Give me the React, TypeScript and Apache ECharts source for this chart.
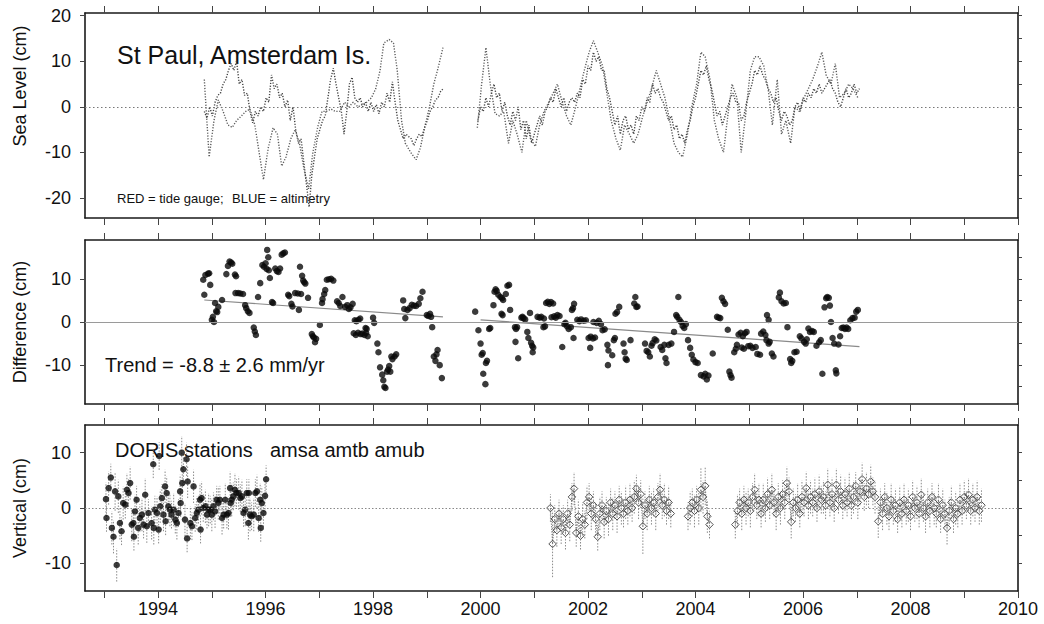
import React, { useEffect, useRef } from 'react';
import * as echarts from 'echarts';

// ---------- axes ----------
const X_MIN = 1992.64;
const X_MAX = 2010;
const yearTicks = [1993, 1994, 1995, 1996, 1997, 1998, 1999, 2000, 2001, 2002, 2003, 2004, 2005, 2006, 2007, 2008, 2009, 2010];
const yearLabels = [1994, 1996, 1998, 2000, 2002, 2004, 2006, 2008, 2010];

const seaLevelRange = [-24.4, 20.6];
const seaLevelLabels = [-20, -10, 0, 10, 20];
const seaLevelRightTicks = [-20, -15, -10, -5, 0, 5, 10, 15, 20];
const diffRange = [-19, 19];
const diffLabels = [-10, 0, 10];
const diffRightTicks = [-15, -10, -5, 0, 5, 10, 15];
const vertRange = [-15, 15];
const vertLabels = [-10, 0, 10];
const vertRightTicks = [-10, -5, 0, 5, 10];

// ---------- panel 1 : sea level (cm) ----------
const tideGauge1 = [
  [1994.86, 6], [1994.95, -11], [1995.04, -3], [1995.12, 1.5], [1995.21, -1], [1995.3, -4], [1995.38, -4.5],
  [1995.46, -3], [1995.55, -2], [1995.63, -1], [1995.71, -0.5], [1995.8, -4], [1995.88, -10], [1995.96, -16],
  [1996.05, -9], [1996.14, -4.6], [1996.22, -6], [1996.3, -13], [1996.38, -11], [1996.47, -7], [1996.55, -5],
  [1996.63, -8], [1996.72, -14], [1996.8, -18], [1996.88, -10], [1996.97, -4.4], [1997.05, -1], [1997.13, -1],
  [1997.22, -0.5], [1997.3, -1], [1997.38, -1], [1997.47, 1], [1997.55, 0], [1997.63, 1], [1997.72, 0],
  [1997.8, 0.5], [1997.88, 1], [1997.97, 2], [1998.05, 4], [1998.13, 8], [1998.2, 14], [1998.3, 14.8],
  [1998.38, 14], [1998.45, 8], [1998.53, -3], [1998.6, -8], [1998.7, -10], [1998.8, -11.6], [1998.88, -9],
  [1998.97, -4], [1999.05, 0], [1999.13, 5], [1999.22, 9], [1999.3, 13],
];
const tideGauge2 = [
  [1999.94, -4.6], [2000.02, 5], [2000.1, 13], [2000.18, 5], [2000.27, -1.5], [2000.35, -2], [2000.43, -1],
  [2000.52, -8], [2000.6, -3], [2000.68, -6], [2000.77, -10], [2000.85, -3], [2000.93, -7], [2001.02, -8.7],
  [2001.1, -4], [2001.18, -1], [2001.27, 1], [2001.35, 3], [2001.43, 5], [2001.52, 1], [2001.6, -2],
  [2001.68, -4], [2001.77, 0], [2001.85, 4], [2001.93, 8], [2002.02, 12], [2002.1, 14.5], [2002.18, 12],
  [2002.27, 9], [2002.35, 3], [2002.43, -3], [2002.52, -7], [2002.6, -9.5], [2002.68, -4], [2002.77, -6],
  [2002.85, -8], [2002.93, -6], [2003.02, -2], [2003.1, 1], [2003.18, 4], [2003.27, 8], [2003.35, 5],
  [2003.43, 2], [2003.52, -3], [2003.6, -8], [2003.68, -10], [2003.76, -11], [2003.85, -6], [2003.93, 0],
  [2004.02, 5], [2004.1, 12], [2004.18, 11], [2004.27, 6], [2004.35, -3], [2004.43, -7], [2004.52, -10],
  [2004.6, -2], [2004.68, 5], [2004.77, 2], [2004.85, -10], [2004.93, -2], [2005.02, 8], [2005.1, 11],
  [2005.18, 11], [2005.27, 9], [2005.35, 4], [2005.43, -4], [2005.52, 6], [2005.6, -6], [2005.68, -3],
  [2005.77, -8], [2005.85, 0], [2005.93, -1], [2006.02, 2], [2006.1, 4], [2006.18, 6], [2006.27, 9],
  [2006.35, 12], [2006.43, 7], [2006.52, 5], [2006.6, 9.5], [2006.68, 2], [2006.77, 3], [2006.85, 5],
  [2006.93, 4], [2007.02, 2],
];
const altimetryStep = 0.05;
const altimetry1Start = 1994.86;
const altimetry1Values = [
  -1, -2.5, 0, -2, 1, 2.5, 3, 5, 6, 8, 9.5, 8, 10, 5, 6, 2.5, 3, -1, -3.5, -1,
  -2, 0, -1, 2, 1, 7, 4, 5, 2, 3, 0, 1.5, -3, 0, -5, -8, -7, -12, -17, -22,
  -15, -11, -7, -5, -3, -2, 2, 6, 8.5, 5, 2, -1, -6, -1, 5, 6.5, 2, 1, 2, 0,
  1, -1, 1, -1, 0.5, -1.5, 1, 0, 3, 1, 5.5, 1, -3, -5, -7, -6, -6.5, -7, -8.5, -7,
  -6, -6.5, -4.5, -3, -1, 0, 1.5, 2, 3.5, 4,
];
const altimetry2Start = 1999.95;
const altimetry2Values = [
  -3, 0, -1, 2, 0, 3, 5, 2, 3, -1, 1, -2, -4, -1, -3, 0, -5, -3, -7, -4,
  -8, -6, -4, -2, -4, -1, 0, 2, 1, 4, 2, 0, 2, -1, 1, 2, 1, 3, 2, 6,
  5, 9, 8, 12, 10, 11, 8, 8, 4, 2, -1, -4, -2, -6, -3, -2, -5, -4, -6, -2,
  -3, 0, -1, 2, 1, 5, 3, 4, 2, 1, -1, -3, -2, -5, -4, -7, -6, -8, -5, -3,
  0, 2, 5, 8, 7, 9, 6, 4, 1, -2, -1, -4, -2, 0, 2, 3, 1, 1, -3, -2,
  1, 3, 5, 8, 7, 9, 7, 6, 4, 3, 1, 2, -1, -3, -1, -2, -4, -3, 0, 1,
  -1, 2, 1, 3, 2, 4, 3, 5, 3, 4, 5, 6, 4, 3, 1, 0, 2, 4, 2, 3,
  5, 3, 4,
];

// ---------- panel 2 : difference (cm) ----------
const difference1 = [
  [1994.84, 9.8], [1994.86, 6.3], [1994.88, 10.9], [1994.93, 11.2], [1994.95, 11.3], [1994.97, 8.6], [1995.0, 0.5],
  [1995.02, 1.2], [1995.04, 0], [1995.06, 4.4], [1995.08, 2.5], [1995.1, 2.3], [1995.12, 3.5], [1995.19, 5.1],
  [1995.27, 11.1], [1995.3, 13], [1995.33, 14], [1995.36, 13.8], [1995.38, 13.5], [1995.43, 11], [1995.45, 10.6],
  [1995.44, 6.7], [1995.49, 6.7], [1995.53, 6.6], [1995.58, 6.5], [1995.62, 3.9], [1995.64, 3.2], [1995.67, 2.5],
  [1995.7, 2.1], [1995.78, -1.3], [1995.8, -2.2], [1995.82, -3], [1995.86, 5.8], [1995.9, 9], [1995.94, 13.2],
  [1995.97, 12.8], [1996.0, 13.6], [1996.02, 12.3], [1996.03, 16.7], [1996.05, 15], [1996.06, 12], [1996.08, 10.2],
  [1996.12, 4.6], [1996.14, 4.4], [1996.18, 12.4], [1996.21, 11.8], [1996.24, 11.6], [1996.27, 12.4], [1996.3, 15.6],
  [1996.33, 15.9], [1996.36, 16.1], [1996.42, 6.3], [1996.44, 6], [1996.48, 4.2], [1996.5, 3.6], [1996.55, 6.7],
  [1996.6, 6.6], [1996.62, 2.8], [1996.64, 12.8], [1996.66, 6.5], [1996.68, 10.7], [1996.7, 9.6], [1996.72, 9.2],
  [1996.74, 8.9], [1996.79, 5.6], [1996.86, -2.8], [1996.88, -3.3], [1996.9, -3.6], [1996.92, -4.7], [1996.94, -3.9],
  [1997.01, -0.7], [1997.05, 4.4], [1997.06, 5.3], [1997.09, 6.5], [1997.11, 7.4], [1997.14, 9.8], [1997.18, 9.9],
  [1997.22, 10], [1997.26, 9.6], [1997.33, 4.8], [1997.36, 4.4], [1997.39, 3.7], [1997.43, 5.8], [1997.48, 3.5],
  [1997.52, 3.9], [1997.55, 3], [1997.58, 3.4], [1997.62, 4.2], [1997.64, -2.6], [1997.66, 0.4], [1997.68, -3],
  [1997.69, 0.2], [1997.72, -2.5], [1997.73, 0.5], [1997.76, 0.8], [1997.77, -2.8], [1997.8, -2.7], [1997.84, -3],
  [1997.86, -1.4], [1997.87, -2.5], [1997.88, -1.6], [1997.9, -3.3], [1998.0, 1], [1998.02, -0.2], [1998.08, -5],
  [1998.1, -7], [1998.13, -10.5], [1998.17, -12.2], [1998.19, -13.5], [1998.21, -15], [1998.23, -15.3], [1998.26, -11.5],
  [1998.28, -11], [1998.3, -10.2], [1998.32, -11.5], [1998.34, -8], [1998.36, -8.6], [1998.4, -8], [1998.43, -7.5],
  [1998.56, 5], [1998.58, 3], [1998.6, 0.9], [1998.64, 2.8], [1998.68, 3.2], [1998.72, 4], [1998.76, 3.8],
  [1998.8, 3.7], [1998.85, 4.2], [1998.88, 5.5], [1998.92, 7], [1999.0, 1.6], [1999.03, 1.4], [1999.06, 1.9],
  [1999.08, 1.2], [1999.1, -1.2], [1999.13, -8], [1999.16, -9], [1999.18, -7.5], [1999.2, -6.5], [1999.24, -10],
  [1999.28, -13],
];
const difference2 = [
  [1999.9, 2.4], [1999.96, -1.9], [2000.0, -5], [2000.02, -7.6], [2000.04, -7.2], [2000.05, -12], [2000.09, -14.4],
  [2000.1, -9.5], [2000.12, -9], [2000.16, -1.6], [2000.18, -1.4], [2000.24, 3.9], [2000.26, 7], [2000.28, 7.6],
  [2000.3, 7.2], [2000.33, 6.3], [2000.37, 5.8], [2000.4, 5.5], [2000.42, 5.1], [2000.39, 1.9], [2000.41, 1.6],
  [2000.47, 6.5], [2000.5, 8.4], [2000.53, 8.6], [2000.55, 2.8], [2000.64, -1.2], [2000.66, -1.6], [2000.68, -1.2],
  [2000.65, -4.6], [2000.7, -8.4], [2000.76, 1], [2000.78, 1.2], [2000.8, 0.9], [2000.83, 0.6], [2000.87, -2.3],
  [2000.89, -3.7], [2000.92, 2.1], [2000.94, -4.8], [2000.96, -5.5], [2000.98, -5.9], [2000.97, -7], [2001.06, 1.2],
  [2001.1, 1], [2001.13, 1.2], [2001.17, -1.2], [2001.18, 0.8], [2001.2, -1], [2001.22, 4.4], [2001.25, 4.7],
  [2001.28, 4.2], [2001.31, 4.6], [2001.35, 4.3], [2001.32, 1.1], [2001.37, 1.3], [2001.4, 1], [2001.43, 1.6],
  [2001.47, 1.4], [2001.52, -5.8], [2001.56, -0.5], [2001.58, -0.2], [2001.61, -1], [2001.64, -1.6], [2001.68, -1.2],
  [2001.7, 2.8], [2001.72, 3.2], [2001.74, 4.2], [2001.73, -3.7], [2001.8, 0.5], [2001.84, 0.2], [2001.87, 0.6],
  [2001.92, 0.3], [2001.96, 0.4], [2002.01, -3.7], [2002.05, -3.4], [2002.09, -3.8], [2002.13, -3.6], [2002.04, -6],
  [2002.1, 0], [2002.16, -0.2], [2002.2, 0.3], [2002.24, -0.5], [2002.27, -1.9], [2002.31, -1.7], [2002.36, -5.3],
  [2002.38, -6.6], [2002.37, -10], [2002.45, -7.7], [2002.48, -4.2], [2002.5, -3.7], [2002.51, 1.9], [2002.54, 2.3],
  [2002.58, 3.5], [2002.66, -5], [2002.68, -7], [2002.7, -8.5], [2002.72, -8.8], [2002.79, -4.2], [2002.86, 4.3],
  [2002.88, 5.8], [2002.9, 3.5], [2002.92, 3.6], [2003.06, -5], [2003.09, -6.7], [2003.12, -7], [2003.15, -8],
  [2003.18, -5.5], [2003.2, -4.9], [2003.24, -4], [2003.27, -4.3], [2003.35, -5.8], [2003.38, -6.5], [2003.42, -5.3],
  [2003.44, -8.4], [2003.46, -9.5], [2003.5, -5.3], [2003.55, -5], [2003.6, -2.3], [2003.64, 1.6], [2003.66, 1.2],
  [2003.68, 5.8], [2003.7, 0.5], [2003.73, 0], [2003.76, -0.9], [2003.79, -1.4], [2003.82, -0.5], [2003.86, -4.2],
  [2003.9, -6], [2003.93, -7.6], [2003.96, -8.7], [2004.0, -9.3], [2004.04, -9.5], [2004.1, -12.3], [2004.15, -12.6],
  [2004.18, -12], [2004.21, -13.3], [2004.24, -12.4], [2004.32, -7.3], [2004.4, 1.2], [2004.43, 1], [2004.46, 0.9],
  [2004.49, 5.6], [2004.52, 4.8], [2004.55, 4.2], [2004.6, -1.8], [2004.63, -11.5], [2004.65, -12.3], [2004.67, -12.9],
  [2004.72, -7], [2004.75, -6.2], [2004.77, -5.3], [2004.8, -2.9], [2004.84, -2.5], [2004.88, -3.3], [2004.92, -2.6],
  [2004.95, -2.3], [2004.86, -5.9], [2004.9, -6.2], [2004.98, -5.6], [2005.02, -5.5], [2005.06, -6], [2005.12, -5.8],
  [2005.15, -7.4], [2005.2, -7.6], [2005.22, -2.7], [2005.26, -2.2], [2005.3, -3], [2005.32, -4.2], [2005.36, -5],
  [2005.38, -4.6], [2005.42, -7.3], [2005.45, -8], [2005.33, 1.6], [2005.36, 0.5], [2005.55, 5.7], [2005.57, 6.8],
  [2005.6, 4.8], [2005.64, 4.3], [2005.68, 4.4], [2005.71, -1.2], [2005.76, -8.6], [2005.78, -9.5], [2005.8, -9],
  [2005.84, -7], [2005.88, -6.9], [2005.94, -3.3], [2005.97, -3.8], [2006.02, -4.6], [2006.05, -5], [2006.07, -4],
  [2006.1, -1.5], [2006.13, -2.3], [2006.17, -2.1], [2006.2, -2.3], [2006.25, -5.5], [2006.3, -4.7], [2006.33, -4.2],
  [2006.36, -12], [2006.4, 3.4], [2006.43, 5.5], [2006.45, 5.8], [2006.48, 5.6], [2006.5, 3.8], [2006.52, 0],
  [2006.55, -3.7], [2006.58, -5], [2006.61, -11.2], [2006.62, -11.9], [2006.66, -5.2], [2006.69, -3.3], [2006.72, -1.4],
  [2006.75, -1.3], [2006.78, -1.6], [2006.81, -1.3], [2006.84, -1.6], [2006.88, 0.4], [2006.92, 0.9], [2006.96, 1],
  [2006.99, 2.4], [2007.02, 2.8],
];
const trend1 = [[1994.86, 5.1], [1999.3, 1.2]];
const trend2 = [[2000.0, 0.5], [2007.05, -5.7]];

// ---------- panel 3 : DORIS vertical (cm)  [year, value, sigma] ----------
const doris1 = [
  [1993.03, 1.6, 3], [1993.04, -1.8, 2.5], [1993.08, 3.6, 3], [1993.12, 5.5, 2.5], [1993.14, -3.6, 3], [1993.17, -5.2, 3],
  [1993.2, 3, 3.5], [1993.23, -10.3, 3], [1993.26, 2.1, 3], [1993.29, -2.7, 3], [1993.32, -4.2, 2.5], [1993.35, 0.9, 3],
  [1993.39, 0.6, 2.5], [1993.42, 3.3, 3], [1993.45, 2.7, 2.5], [1993.48, 4.5, 3], [1993.51, -3, 3], [1993.54, -2.7, 2.5],
  [1993.55, -5.2, 2.5], [1993.57, -0.6, 3], [1993.6, 1.5, 2.5], [1993.63, -3.6, 3], [1993.66, -1.8, 2.5], [1993.7, -1.2, 3],
  [1993.73, -3, 2.5], [1993.76, 2.4, 3], [1993.79, -3.3, 3], [1993.82, -0.9, 2.5], [1993.88, -2.7, 3], [1993.91, 7.9, 2.5],
  [1993.92, -3.6, 3], [1993.94, -0.3, 2.5], [1993.98, -0.9, 3], [1994.01, -3.9, 2.5], [1994.02, 9.4, 2.5], [1994.04, 0.3, 3],
  [1994.07, 1.8, 2.5], [1994.1, -1.2, 3], [1994.13, 3.9, 3], [1994.14, -2.4, 2.5], [1994.16, 2.7, 3], [1994.19, 0.3, 2.5],
  [1994.22, -0.3, 3], [1994.25, -1.2, 2.5], [1994.29, -0.3, 3], [1994.32, -2.1, 2.5], [1994.35, -2.7, 3], [1994.38, -0.9, 2.5],
  [1994.41, 3, 3], [1994.42, 0.9, 2.5], [1994.44, 10, 3], [1994.45, 4.5, 3], [1994.47, 7, 3], [1994.5, -2.1, 3],
  [1994.53, 8.8, 3], [1994.54, -5.5, 2.5], [1994.55, 4.8, 3], [1994.6, -2.7, 3], [1994.63, -3.3, 2.5], [1994.66, 3.9, 3],
  [1994.69, -1.8, 2.5], [1994.72, -0.9, 3], [1994.75, -0.3, 2.5], [1994.78, 1.5, 3], [1994.79, -3.9, 2.5], [1994.81, 1.8, 3],
  [1994.84, 0, 2.5], [1994.88, 0.3, 3], [1994.91, -1.2, 2.5], [1994.94, -0.3, 3], [1994.97, -0.3, 2.5], [1995.0, -1.2, 3],
  [1995.03, 0.3, 2.5], [1995.06, -0.6, 3], [1995.09, 1.5, 2.5], [1995.12, 0.9, 3], [1995.15, 1.5, 2.5], [1995.19, -1.8, 3],
  [1995.22, -1.2, 2.5], [1995.25, 1.5, 3], [1995.28, -1.2, 2.5], [1995.31, -0.9, 3], [1995.34, 3.6, 3], [1995.35, 0.9, 2.5],
  [1995.37, 1.5, 3], [1995.4, 2.1, 2.5], [1995.43, 3.3, 3], [1995.46, 2.7, 2.5], [1995.5, 2.7, 3], [1995.53, 1.8, 2.5],
  [1995.56, 2.1, 3], [1995.59, -0.9, 2.5], [1995.62, -0.3, 3], [1995.65, 2.7, 2.5], [1995.68, -2.7, 3], [1995.69, 2.7, 2.5],
  [1995.71, -1.2, 3], [1995.74, -1.5, 2.5], [1995.78, -1.2, 3], [1995.81, 2.7, 2.5], [1995.84, 3, 3], [1995.87, -1.8, 2.5],
  [1995.9, 1.5, 3], [1995.91, -3.6, 2.5], [1995.93, 0.9, 3], [1995.96, -0.9, 2.5], [1995.99, 2.2, 3], [1996.01, 5.2, 2.5],
];
const doris2a = [
  [2001.3, 0, 2.5], [2001.34, -6.5, 6], [2001.38, -2, 2.5], [2001.42, -4, 3], [2001.46, -1, 2.5], [2001.5, -3.5, 3],
  [2001.54, -2, 2.5], [2001.58, -4.5, 3], [2001.62, -1, 2.5], [2001.66, -3, 3], [2001.7, 2, 2.5], [2001.74, 3.5, 3],
  [2001.78, -4.5, 2.5], [2001.82, -1.5, 3], [2001.86, -5, 2.5], [2001.9, -2, 3], [2001.94, -3, 2.5], [2001.98, 1, 3],
  [2002.02, 2, 2.5], [2002.06, -1, 3], [2002.1, 0.5, 2.5], [2002.14, -2, 3], [2002.18, -5.2, 2.5], [2002.22, -1, 3],
  [2002.26, 0.5, 2.5], [2002.3, -2.5, 3], [2002.34, -0.5, 2.5], [2002.38, -2, 3], [2002.42, 1, 2.5], [2002.46, -1, 3],
  [2002.5, 0.5, 2.5], [2002.54, -1.5, 3], [2002.58, 1.5, 2.5], [2002.62, 0, 3], [2002.66, -1, 2.5], [2002.7, 1, 3],
  [2002.74, -0.5, 2.5], [2002.78, 1.5, 3], [2002.82, 0, 2.5], [2002.86, 2, 3], [2002.9, 3.5, 2.5], [2002.94, 1, 3],
  [2002.98, 2.5, 2.5], [2003.02, -3.3, 5], [2003.06, 0.5, 2.5], [2003.1, -1, 3], [2003.14, 1.5, 2.5], [2003.18, 0, 3],
  [2003.22, 1, 2.5], [2003.26, -1, 3], [2003.3, 2, 2.5], [2003.34, 3.3, 3], [2003.38, 0.5, 2.5], [2003.42, 1.5, 3],
  [2003.46, -0.5, 2.5], [2003.5, 1, 3], [2003.54, -1, 2.5],
];
const doris2b = [
  [2003.86, -1.5, 2.5], [2003.9, 0, 3], [2003.94, 1, 2.5], [2003.98, -0.5, 3], [2004.02, 1.5, 2.5], [2004.06, 0, 3],
  [2004.1, 3.3, 4], [2004.14, 2, 3], [2004.18, 4, 3.5], [2004.22, -1.5, 3], [2004.26, -3, 2.5],
];
const doris2c = [
  [2004.74, -3, 2.5], [2004.78, -0.5, 3], [2004.82, 1, 2.5], [2004.86, -1, 3], [2004.9, 1.5, 2.5], [2004.94, 0, 3],
  [2004.98, 1, 2.5], [2005.02, -0.5, 3], [2005.06, 2, 2.5], [2005.1, 3.3, 3], [2005.14, 0.5, 2.5], [2005.18, 1.5, 3],
  [2005.22, -1, 2.5], [2005.26, 1.5, 3], [2005.3, 0, 2.5], [2005.34, 2.5, 3], [2005.38, 0.5, 2.5], [2005.42, 3.3, 3],
  [2005.46, 1, 2.5], [2005.5, -1, 3], [2005.54, 2, 2.5], [2005.58, 0, 3], [2005.62, 2.5, 2.5], [2005.66, 1, 3],
  [2005.7, 4.5, 3], [2005.74, 3, 2.5], [2005.78, -2.5, 3], [2005.82, 1, 2.5],
];
const doris2d = [
  [2005.86, 0, 2.5], [2005.9, 1.5, 3], [2005.94, -1, 2.5], [2005.98, 2, 3], [2006.02, 1, 2.5], [2006.06, 3.6, 3],
  [2006.1, 0.5, 2.5], [2006.14, 2, 3], [2006.18, 1, 2.5], [2006.22, 2.5, 3], [2006.26, 0, 2.5], [2006.3, 3, 3],
  [2006.34, 1.5, 2.5], [2006.38, 2, 3], [2006.42, 0.5, 2.5], [2006.46, 4.2, 3], [2006.5, 1, 2.5], [2006.54, 2.5, 3],
  [2006.58, 0, 2.5], [2006.62, 4.2, 3], [2006.66, 1.5, 2.5], [2006.7, 3, 3], [2006.74, 0.5, 2.5], [2006.78, 2.5, 3],
  [2006.82, 1, 2.5], [2006.86, 3.5, 3], [2006.9, 0.5, 2.5], [2006.94, 2, 3], [2006.98, 4, 2.5], [2007.02, 1, 3],
  [2007.06, 3, 2.5], [2007.1, 5.2, 3], [2007.14, 2, 2.5], [2007.18, 3.5, 3], [2007.22, 2.5, 2.5], [2007.26, 4.8, 3],
  [2007.3, 3, 2.5], [2007.34, 2, 3],
];
const doris2e = [
  [2007.4, -2.4, 3], [2007.44, 1, 2.5], [2007.48, -1, 3], [2007.52, 2, 2.5], [2007.56, 0, 3], [2007.6, -1.5, 2.5],
  [2007.64, 1.5, 3], [2007.68, -0.5, 2.5], [2007.72, 0.5, 3], [2007.76, -2, 2.5], [2007.8, 1, 3], [2007.84, -1, 2.5],
  [2007.88, 1.5, 3], [2007.92, -0.5, 2.5], [2007.96, 0.5, 3], [2008.0, -1.5, 2.5], [2008.04, 2, 3], [2008.08, 0, 2.5],
  [2008.12, 1, 3], [2008.16, -1, 2.5], [2008.2, 2.4, 3], [2008.24, 0, 2.5], [2008.28, -1.5, 3], [2008.32, 1, 2.5],
  [2008.36, -0.5, 3], [2008.4, 2, 2.5], [2008.44, 0, 3], [2008.48, -1, 2.5], [2008.52, 1.5, 3], [2008.56, -2, 2.5],
  [2008.6, 0.5, 3], [2008.64, -1, 2.5], [2008.68, -3.6, 3], [2008.72, -0.5, 2.5], [2008.76, 1, 3], [2008.8, -2, 2.5],
  [2008.84, 0, 3], [2008.88, -1, 2.5], [2008.92, 1.5, 3], [2008.96, -0.5, 2.5], [2009.0, 2, 3], [2009.04, 0.5, 2.5],
  [2009.08, 2.4, 3], [2009.12, -0.5, 2.5], [2009.16, 1.5, 3], [2009.2, 0, 2.5], [2009.24, 2, 3], [2009.28, -0.5, 2.5],
  [2009.32, 0.5, 3],
];
const doris2Segments = [doris2a, doris2b, doris2c, doris2d, doris2e];

const FONT = 'Liberation Sans, Arial, Helvetica, sans-serif';

const App: React.FC = () => {
  const ref = useRef<HTMLDivElement>(null);

  useEffect(() => {
    if (!ref.current) return;
    const chart = echarts.init(ref.current, undefined, { renderer: 'svg' });

    const grids = [
      { left: 85, top: 13, width: 933, height: 205 },
      { left: 85, top: 240, width: 933, height: 164 },
      { left: 85, top: 425, width: 933, height: 166 },
    ];
    const yRanges = [seaLevelRange, diffRange, vertRange];
    const yLabelVals = [seaLevelLabels, diffLabels, vertLabels];
    const yRightVals = [seaLevelRightTicks, diffRightTicks, vertRightTicks];

    const axisLine = { show: true, onZero: false, lineStyle: { color: '#1a1a1a', width: 1.6 } };

    const xAxis: any[] = [];
    const yAxis: any[] = [];
    grids.forEach((_, i) => {
      xAxis.push({
        gridIndex: i, type: 'value', position: 'bottom', min: X_MIN, max: X_MAX,
        axisLine, splitLine: { show: false },
        axisTick: { show: true, customValues: yearTicks, length: 7, lineStyle: { color: '#444', width: 1 } },
        axisLabel: {
          show: i === 2, customValues: yearLabels, formatter: (v: number) => String(v),
          fontSize: 18, margin: 9, color: '#111', fontFamily: FONT,
        },
      });
      xAxis.push({
        gridIndex: i, type: 'value', position: 'top', min: X_MIN, max: X_MAX,
        axisLine, splitLine: { show: false },
        axisTick: { show: true, customValues: yearTicks, length: 7, lineStyle: { color: '#444', width: 1 } },
        axisLabel: { show: false },
      });
      yAxis.push({
        gridIndex: i, type: 'value', position: 'left', min: yRanges[i][0], max: yRanges[i][1],
        axisLine, splitLine: { show: false },
        axisTick: { show: true, customValues: yLabelVals[i], length: 5, lineStyle: { color: '#444' } },
        axisLabel: {
          show: true, customValues: yLabelVals[i], formatter: (v: number) => String(v),
          fontSize: 18, margin: 14, color: '#111', fontFamily: FONT,
        },
      });
      yAxis.push({
        gridIndex: i, type: 'value', position: 'right', min: yRanges[i][0], max: yRanges[i][1],
        axisLine, splitLine: { show: false },
        axisTick: { show: true, customValues: yRightVals[i], length: 4, lineStyle: { color: '#444' } },
        axisLabel: { show: false },
      });
    });

    const dotted = { color: '#5c5c5c', width: 1.4, type: [1.2, 1.6] as any };
    const alt1 = altimetry1Values.map((v, k) => [altimetry1Start + k * altimetryStep, v]);
    const alt2 = altimetry2Values.map((v, k) => [altimetry2Start + k * altimetryStep, v]);

    const zeroLine = (style: any) => ({
      silent: true, symbol: ['none', 'none'], label: { show: false },
      lineStyle: style, data: [{ yAxis: 0 }],
    });

    const errorBars = (data: number[][], xi: number, yi: number, color: string) => ({
      type: 'custom', xAxisIndex: xi, yAxisIndex: yi, data,
      encode: { x: 0, y: 1 }, silent: true, z: 1,
      renderItem: (_p: any, api: any) => {
        const x = api.value(0), y = api.value(1), e = api.value(2);
        const a = api.coord([x, y - e]);
        const b = api.coord([x, y + e]);
        return {
          type: 'line',
          shape: { x1: a[0], y1: a[1], x2: b[0], y2: b[1] },
          style: { stroke: color, lineWidth: 1, lineDash: [1.5, 1.5] },
        };
      },
    });

    const series: any[] = [
      // panel 1
      {
        type: 'line', xAxisIndex: 0, yAxisIndex: 0, data: tideGauge1, showSymbol: false, lineStyle: dotted,
        markLine: zeroLine({ color: '#777', width: 1, type: [1.5, 2.5] }),
      },
      { type: 'line', xAxisIndex: 0, yAxisIndex: 0, data: tideGauge2, showSymbol: false, lineStyle: dotted },
      { type: 'line', xAxisIndex: 0, yAxisIndex: 0, data: alt1, showSymbol: false, lineStyle: { ...dotted, color: '#444' } },
      { type: 'line', xAxisIndex: 0, yAxisIndex: 0, data: alt2, showSymbol: false, lineStyle: { ...dotted, color: '#444' } },
      // panel 2
      {
        type: 'line', xAxisIndex: 2, yAxisIndex: 2, data: trend1, showSymbol: false, z: 1,
        lineStyle: { color: '#8a8a8a', width: 1.2 },
        markLine: zeroLine({ color: '#9a9a9a', width: 1, type: 'solid' }),
      },
      { type: 'line', xAxisIndex: 2, yAxisIndex: 2, data: trend2, showSymbol: false, z: 1, lineStyle: { color: '#8a8a8a', width: 1.2 } },
      { type: 'scatter', xAxisIndex: 2, yAxisIndex: 2, data: difference1, symbolSize: 6.5, itemStyle: { color: '#0a0a0a' }, z: 3 },
      { type: 'scatter', xAxisIndex: 2, yAxisIndex: 2, data: difference2, symbolSize: 6.5, itemStyle: { color: '#0a0a0a' }, z: 3 },
      // panel 3
      errorBars(doris1, 4, 4, '#8c8c8c'),
      ...doris2Segments.map((seg) => errorBars(seg, 4, 4, '#8a8a8a')),
      ...doris2Segments.map((seg) => ({
        type: 'line', xAxisIndex: 4, yAxisIndex: 4, data: seg.map((d) => [d[0], d[1]]),
        symbol: 'diamond', symbolSize: 7.5, showSymbol: true, z: 2,
        lineStyle: { color: '#707070', width: 1, type: [1.2, 1.4] },
        itemStyle: { color: 'rgba(0,0,0,0)', borderColor: '#555', borderWidth: 1 },
      })),
      {
        type: 'scatter', xAxisIndex: 4, yAxisIndex: 4, data: doris1.map((d) => [d[0], d[1]]), symbolSize: 6.5,
        itemStyle: { color: '#0a0a0a' }, z: 3,
        markLine: zeroLine({ color: '#888', width: 1, type: [1.5, 2] }),
      },
    ];

    const text = (t: string, x: number, y: number, size: number) => ({
      type: 'text', x, y,
      style: { text: t, font: `${size}px ${FONT}`, fill: '#111', textVerticalAlign: 'middle' },
    });
    const vtext = (t: string, x: number, y: number, size: number) => ({
      type: 'text', x, y, rotation: Math.PI / 2,
      style: { text: t, font: `${size}px ${FONT}`, fill: '#111', textAlign: 'center', textVerticalAlign: 'middle' },
    });

    const graphic: any[] = [
      vtext('Sea Level (cm)', 20, 86, 18),
      vtext('Difference (cm)', 20, 322, 18),
      vtext('Vertical (cm)', 20, 508, 18),
      text('St Paul, Amsterdam Is.', 117, 55, 25),
      text('RED = tide gauge;', 117, 198, 13),
      text('BLUE = altimetry', 232, 198, 13),
      text('Trend = -8.8 ± 2.6 mm/yr', 105, 365, 20),
      text('DORIS stations', 115, 450, 20),
      text('amsa amtb amub', 270, 450, 20),
    ];

    chart.setOption({
      animation: false,
      backgroundColor: '#ffffff',
      grid: grids,
      xAxis,
      yAxis,
      series,
      graphic,
    });

    return () => chart.dispose();
  }, []);

  return <div ref={ref} style={{ position: 'fixed', left: 0, top: 0, width: 1044, height: 624, background: '#fff' }} />;
};

export default App;
